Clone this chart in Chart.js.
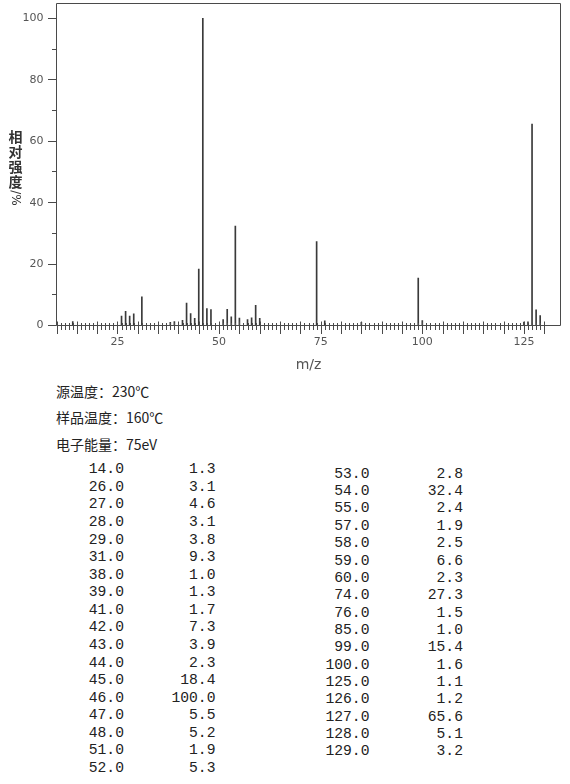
<!DOCTYPE html>
<html>
<head>
<meta charset="utf-8">
<script src="https://cdn.jsdelivr.net/npm/chart.js@4.4.1/dist/chart.umd.min.js"></script>
<style>
  html, body { margin: 0; padding: 0; background: #ffffff; }
  body { width: 570px; height: 784px; position: relative; overflow: hidden; }
  #wrap { position: absolute; left: 0; top: 0; width: 570px; height: 374px; }
  #ytitle { position: absolute; left: 8px; top: 129px; width: 15px; text-align: center;
            font: bold 14px "Noto Sans CJK SC", sans-serif; line-height: 15px; color: #333; }
  #ytitle .ch { display: block; height: 15px; }
  #ytitle .rotbox { display: block; height: 18px; position: relative; }
  #ytitle .rot { position: absolute; left: 50%; top: 50%; transform: translate(-50%, -50%) rotate(90deg);
                 font: 12px "DejaVu Sans", sans-serif; line-height: 12px; white-space: pre; }
  .cond { position: absolute; left: 56px; font: 14px "Noto Sans CJK SC", sans-serif; line-height: 20px; color: #222; white-space: pre; }
  .col { position: absolute; text-align: right; font: 14.7px "Liberation Mono", monospace; color: #222; white-space: pre; }
</style>
</head>
<body>
<div id="wrap"><canvas id="c" width="570" height="374"></canvas></div>
<div id="ytitle"></div>
<div id="conds"></div>
<div id="table"></div>
<script>
// ---- data ----
const mzValues = [14, 26, 27, 28, 29, 31, 38, 39, 41, 42, 43, 44, 45, 46, 47, 48, 51, 52,
                  53, 54, 55, 57, 58, 59, 60, 74, 76, 85, 99, 100, 125, 126, 127, 128, 129];
const intensities = [1.3, 3.1, 4.6, 3.1, 3.8, 9.3, 1.0, 1.3, 1.7, 7.3, 3.9, 2.3, 18.4, 100.0, 5.5, 5.2, 1.9, 5.3,
                     2.8, 32.4, 2.4, 1.9, 2.5, 6.6, 2.3, 27.3, 1.5, 1.0, 15.4, 1.6, 1.1, 1.2, 65.6, 5.1, 3.2];
const xTickLabels = [25, 50, 75, 100, 125];
const yTickLabels = [0, 20, 40, 60, 80, 100];
const conditions = ['源温度：230℃', '样品温度：160℃', '电子能量：75eV'];
const xAxisTitle = 'm/z';
const yAxisTitle = '相对强度';
const yAxisUnit = '/%';
const leftRows = 18;

// ---- y axis title (upright CJK, rotated unit) ----
const yt = document.getElementById('ytitle');
for (const ch of yAxisTitle) {
  const s = document.createElement('span');
  s.className = 'ch';
  s.textContent = ch;
  yt.appendChild(s);
}
const rb = document.createElement('span');
rb.className = 'rotbox';
const r = document.createElement('span');
r.className = 'rot';
r.textContent = yAxisUnit;
rb.appendChild(r);
yt.appendChild(rb);

// ---- text blocks ----
const condTops = [381, 407, 434];
const condBox = document.getElementById('conds');
conditions.forEach((t, i) => {
  const d = document.createElement('div');
  d.className = 'cond';
  d.style.top = condTops[i] + 'px';
  d.textContent = t;
  condBox.appendChild(d);
});

function addCol(lines, right, top, lh, width) {
  const d = document.createElement('div');
  d.className = 'col';
  d.style.left = (right - width) + 'px';
  d.style.width = width + 'px';
  d.style.top = top + 'px';
  d.style.lineHeight = lh + 'px';
  d.textContent = lines.join('\n');
  document.getElementById('table').appendChild(d);
}
const fmt = v => v.toFixed(1);
addCol(mzValues.slice(0, leftRows).map(fmt), 124, 461.2, 17.58, 60);
addCol(intensities.slice(0, leftRows).map(fmt), 215.5, 461.2, 17.58, 60);
addCol(mzValues.slice(leftRows).map(fmt), 369.5, 465.8, 17.35, 60);
addCol(intensities.slice(leftRows).map(fmt), 463, 465.8, 17.35, 60);

// ---- chart ----
const framePlugin = {
  id: 'frameTicks',
  afterDatasetsDraw(chart) {
    const { ctx, chartArea: a, scales: { x, y } } = chart;
    const L = Math.floor(a.left) + 0.5, R = Math.floor(a.right) + 0.5;
    const T = Math.floor(a.top) + 0.5, B = Math.floor(a.bottom) + 0.5;
    ctx.save();
    ctx.strokeStyle = '#4a4a4a';
    ctx.lineWidth = 1;
    ctx.beginPath();
    ctx.moveTo(L, B); ctx.lineTo(L, T); ctx.lineTo(R, T); ctx.lineTo(R, B); ctx.lineTo(L, B);
    // y ticks
    for (let v = 0; v <= 100; v += 10) {
      const py = Math.floor(y.getPixelForValue(v)) + 0.5;
      const major = v % 20 === 0;
      ctx.moveTo(major ? L - 8.5 : L - 4.5, py);
      ctx.lineTo(L, py);
    }
    // x ticks
    for (let m = 10; m <= 130; m += 1) {
      const px = Math.round(x.getPixelForValue(m)) + 0.5;
      const major = m % 5 === 0;
      ctx.moveTo(px, major ? B - 4 : B - 2.5);
      ctx.lineTo(px, major ? B + 8.5 : B + 4.5);
    }
    ctx.stroke();
    ctx.restore();
  }
};

new Chart(document.getElementById('c'), {
  type: 'bar',
  data: {
    datasets: [{
      data: mzValues.map((m, i) => ({ x: m, y: intensities[i] })),
      backgroundColor: '#3a3a3a',
      borderWidth: 0,
      barThickness: 1
    }]
  },
  options: {
    responsive: false,
    animation: false,
    devicePixelRatio: 1,
    layout: { padding: { top: 3, right: 9.5, bottom: 0, left: 0 } },
    plugins: { legend: { display: false }, tooltip: { enabled: false } },
    scales: {
      x: {
        type: 'linear',
        min: 10, max: 134,
        offset: false,
        grid: { display: false, drawTicks: false, offset: false },
        border: { display: false },
        afterBuildTicks: s => { s.ticks = xTickLabels.map(v => ({ value: v })); },
        afterFit: s => { s.height = 48.5; s.paddingLeft = 0; s.paddingRight = 0; },
        ticks: { padding: 10, maxRotation: 0, autoSkip: false, color: '#555',
                 font: { family: 'DejaVu Sans', size: 11 } },
        title: { display: true, text: xAxisTitle, color: '#555', padding: 0,
                 font: { family: 'DejaVu Sans', size: 14 } }
      },
      y: {
        min: 0, max: 105,
        grid: { display: false, drawTicks: false },
        border: { display: false },
        afterBuildTicks: s => { s.ticks = yTickLabels.map(v => ({ value: v })); },
        afterFit: s => { s.width = 56.5; s.paddingTop = 0; s.paddingBottom = 0; },
        ticks: { padding: 13, color: '#555', font: { family: 'DejaVu Sans', size: 11 } }
      }
    }
  },
  plugins: [framePlugin]
});
</script>
</body>
</html>
